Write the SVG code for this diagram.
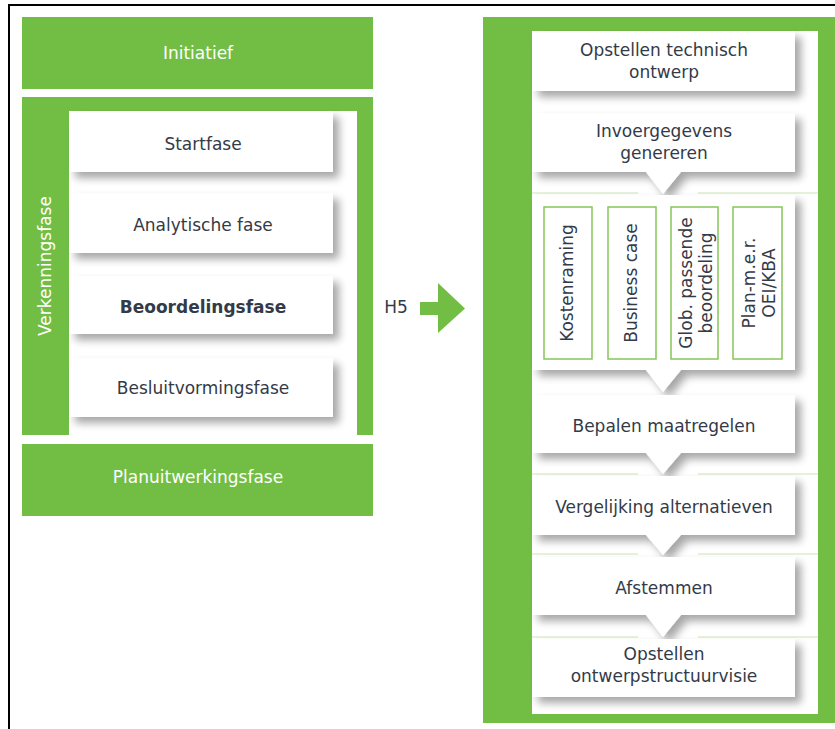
<svg xmlns="http://www.w3.org/2000/svg" width="835" height="729" viewBox="0 0 835 729">
  <style>
    .green { fill: #72BE45; }
    .white { fill: #FFFFFF; }
    .card { fill: #FFFFFF; filter: url(#shadow); }
    .lbl { font-family: "DejaVu Sans", Verdana, sans-serif; font-size: 17px; fill: #333A48; text-anchor: middle; }
    .lbl-w { font-family: "DejaVu Sans", Verdana, sans-serif; font-size: 17px; fill: #FFFFFF; text-anchor: middle; }
    .bold { font-weight: bold; }
    .sub { fill: #FFFFFF; stroke: #86C65A; stroke-width: 1.5; }
    .sep { stroke: #C9E6B4; stroke-width: 1.2; fill: none; }
    .frame { stroke: #000000; stroke-width: 2; fill: none; }
  </style>
  <defs>
    <filter id="shadow" x="-10%" y="-20%" width="130%" height="160%">
      <feGaussianBlur in="SourceAlpha" stdDeviation="4"/>
      <feOffset dx="6" dy="6" result="blur"/>
      <feComponentTransfer><feFuncA type="linear" slope="0.35"/></feComponentTransfer>
      <feMerge><feMergeNode/><feMergeNode in="SourceGraphic"/></feMerge>
    </filter>
  </defs>

  <rect width="835" height="729" fill="#FFFFFF"/>

  <!-- page frame -->
  <path class="frame" d="M9,729 V5 H835"/>

  <!-- left column: project phases -->
  <g id="initiatief">
    <rect class="green" x="22" y="17" width="351" height="72"/>
    <text class="lbl-w" x="198" y="59">Initiatief</text>
  </g>

  <g id="verkenningsfase">
    <rect class="green" x="22" y="97" width="351" height="338"/>
    <rect class="white" x="69" y="111" width="288" height="324"/>
    <text class="lbl-w" transform="translate(51,266) rotate(-90)" x="0" y="0">Verkenningsfase</text>
  </g>

  <g id="startfase">
    <rect class="card" x="69" y="111" width="264" height="61"/>
    <text class="lbl" x="203" y="150">Startfase</text>
  </g>
  <g id="analytische-fase">
    <rect class="card" x="69" y="193" width="264" height="60"/>
    <text class="lbl" x="203" y="231">Analytische fase</text>
  </g>
  <g id="beoordelingsfase">
    <rect class="card" x="69" y="276" width="264" height="58"/>
    <text class="lbl bold" x="203" y="313">Beoordelingsfase</text>
  </g>
  <g id="besluitvormingsfase">
    <rect class="card" x="69" y="358" width="264" height="59"/>
    <text class="lbl" x="203" y="394">Besluitvormingsfase</text>
  </g>

  <g id="planuitwerkingsfase">
    <rect class="green" x="22" y="444" width="351" height="72"/>
    <text class="lbl-w" x="198" y="483">Planuitwerkingsfase</text>
  </g>

  <!-- link to chapter 5 -->
  <g id="h5">
    <text class="lbl" x="396" y="313">H5</text>
    <polygon class="green" points="420,302 438,302 438,283 465,308.5 438,333 438,315 420,315"/>
  </g>

  <!-- right column: assessment steps -->
  <g id="beoordeling-panel">
    <rect class="green" x="483" y="17" width="352" height="706"/>
    <rect class="white" x="532" y="31" width="286" height="683"/>
  </g>

  <g id="connectors">
    <path class="sep" d="M532,193 H638 M698,193 H818"/>
    <path class="sep" d="M532,474 H638 M698,474 H818"/>
    <path class="sep" d="M532,554 H638 M698,554 H818"/>
    <path class="sep" d="M532,637 H638 M698,637 H818"/>
  </g>

  <g id="technisch-ontwerp">
    <rect class="card" x="532" y="31" width="263" height="60"/>
    <text class="lbl" x="664" y="56">Opstellen technisch</text>
    <text class="lbl" x="664" y="78">ontwerp</text>
  </g>

  <g id="invoergegevens">
    <path class="card" d="M532,113 H795 V172 H681 L663,194 L646,172 H532 Z"/>
    <text class="lbl" x="664" y="137">Invoergegevens</text>
    <text class="lbl" x="664" y="159">genereren</text>
  </g>

  <g id="analyses">
    <path class="card" d="M532,195 H795 V370 H681 L663,392 L646,370 H532 Z"/>
    <rect class="sub" x="544" y="207" width="48" height="152"/>
    <rect class="sub" x="608" y="207" width="48" height="152"/>
    <rect class="sub" x="671" y="207" width="47" height="152"/>
    <rect class="sub" x="733" y="207" width="49" height="152"/>
    <text class="lbl" transform="translate(573,283) rotate(-90)">Kostenraming</text>
    <text class="lbl" transform="translate(637,283) rotate(-90)">Business case</text>
    <text class="lbl" transform="translate(692,283) rotate(-90)">Glob. passende</text>
    <text class="lbl" transform="translate(712,283) rotate(-90)">beoordeling</text>
    <text class="lbl" transform="translate(755,283) rotate(-90)">Plan-m.e.r.</text>
    <text class="lbl" transform="translate(775,283) rotate(-90)">OEI/KBA</text>
  </g>

  <g id="maatregelen">
    <path class="card" d="M532,395 H795 V453 H681 L663,474 L646,453 H532 Z"/>
    <text class="lbl" x="664" y="432">Bepalen maatregelen</text>
  </g>

  <g id="vergelijking">
    <path class="card" d="M532,476 H795 V535 H681 L663,555 L646,535 H532 Z"/>
    <text class="lbl" x="664" y="513">Vergelijking alternatieven</text>
  </g>

  <g id="afstemmen">
    <path class="card" d="M532,557 H795 V615 H681 L663,637 L646,615 H532 Z"/>
    <text class="lbl" x="664" y="594">Afstemmen</text>
  </g>

  <g id="ontwerpstructuurvisie">
    <rect class="card" x="532" y="639" width="263" height="58"/>
    <text class="lbl" x="664" y="660">Opstellen</text>
    <text class="lbl" x="664" y="682">ontwerpstructuurvisie</text>
  </g>
</svg>
